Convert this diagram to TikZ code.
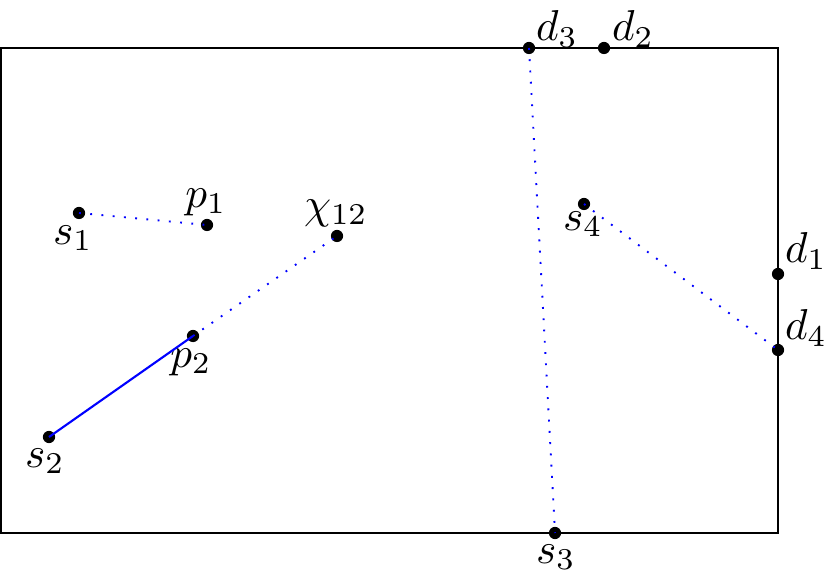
\documentclass[tikz,border=0pt]{standalone}
\begin{document}
\begin{tikzpicture}[x=0.2128pt,y=-0.2128pt,
  pt/.style={circle,fill=black,inner sep=0pt,minimum size=2.6pt},
  lab/.style={inner sep=0pt,scale=0.92},
  dotline/.style={blue,dotted},
  solidline/.style={blue,line width=0.45pt}]
\useasboundingbox (0,0) rectangle (830,576);
\draw (1,48) rectangle (778,533);
% points
\node[pt] (d3) at (529,48) {};
\node[pt] (d2) at (604,48) {};
\node[pt] (s1) at (79,213) {};
\node[pt] (p1) at (207,225) {};
\node[pt] (chi) at (337,236) {};
\node[pt] (p2) at (193,336) {};
\node[pt] (s2) at (49,437) {};
\node[pt] (s4) at (584,204) {};
\node[pt] (d1) at (778,274) {};
\node[pt] (d4) at (778,350) {};
\node[pt] (s3) at (555,533) {};
% labels
\node[lab] (ld3) at (557,29) {$d_3$};
\node[lab] (ld2) at (633,29) {$d_2$};
\node[lab] (lp1) at (206,202) {$p_1$};
\node[lab] (lchi) at (336,213) {$\chi_{12}$};
\node[lab] (ls1) at (73,238) {$s_1$};
\node[lab] (lp2) at (191,362) {$p_2$};
\node[lab] (ls2) at (45,461) {$s_2$};
\node[lab] (ls4) at (583,224) {$s_4$};
\node[lab] (ld1) at (806,251) {$d_1$};
\node[lab] (ld4) at (806,328) {$d_4$};
\node[lab] (ls3) at (556,557) {$s_3$};
% connectors
\draw[dotline] (s1.center) -- (p1.center);
\draw[dotline] (p2.center) -- (chi.center);
\draw[solidline] (s2.center) -- (p2.center);
\draw[dotline] (d3.center) -- (s3.center);
\draw[dotline] (s4.center) -- (d4.center);
\end{tikzpicture}
\end{document}
